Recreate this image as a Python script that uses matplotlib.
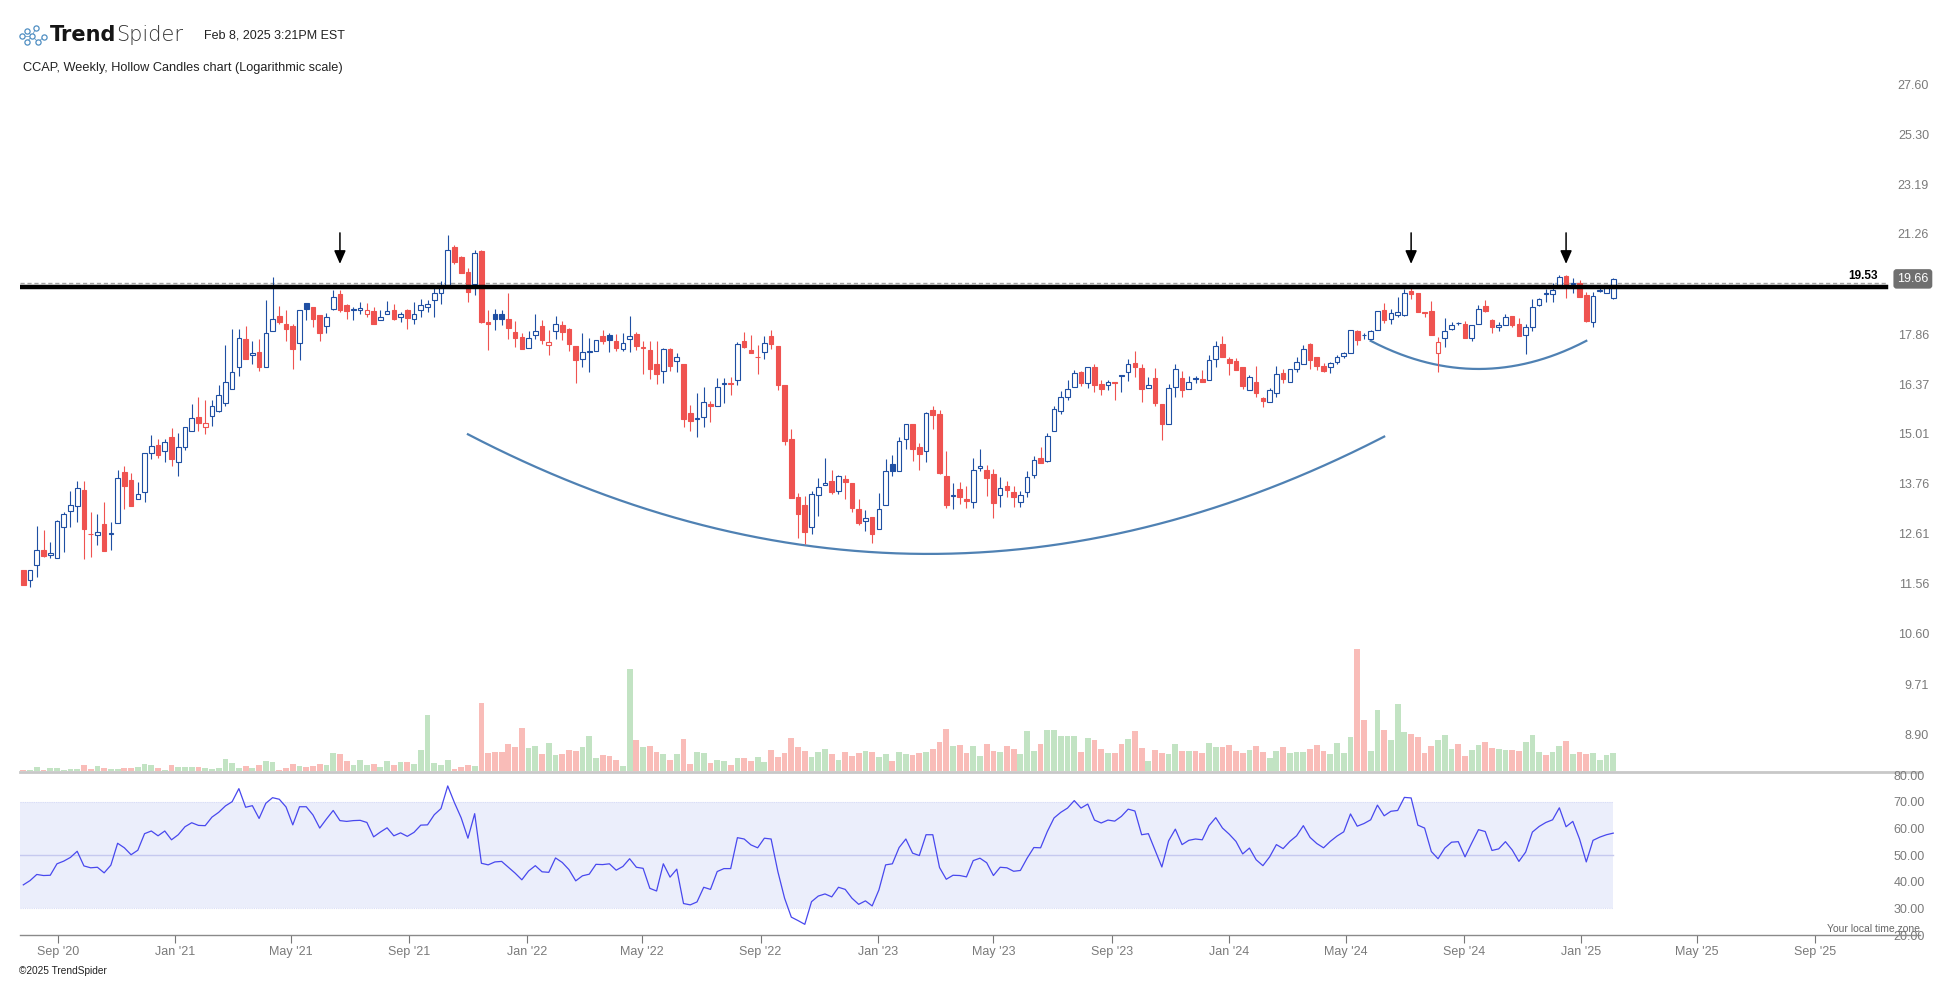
import numpy as np
import pandas as pd
import matplotlib
matplotlib.use("Agg")
import matplotlib.pyplot as plt
import matplotlib.dates as mdates
from matplotlib.ticker import FixedLocator, NullLocator

# weekly CCAP candles
dates = pd.date_range("2020-07-27", periods=237, freq="7D")

opens = [
    11.84, 11.64, 11.94, 12.27, 12.15, 12.09, 12.76, 13.13, 13.24, 13.61,
    12.62, 12.58, 12.83, 12.61, 12.86, 14.04, 13.85, 13.40, 13.57, 14.51,
    14.72, 14.56, 14.92, 14.29, 14.66, 15.08, 15.46, 15.18, 15.49, 15.61,
    15.84, 16.22, 16.86, 17.71, 17.21, 17.30, 16.86, 17.95, 18.42, 18.19,
    18.11, 17.58, 18.84, 18.71, 18.45, 18.10, 18.67, 19.15, 18.78, 18.62,
    18.61, 18.51, 18.58, 18.29, 18.51, 18.61, 18.39, 18.62, 18.32, 18.61,
    18.71, 18.94, 19.17, 19.39, 20.78, 20.43, 19.90, 19.47, 20.65, 18.24,
    18.48, 18.48, 18.33, 17.93, 17.76, 17.42, 17.84, 18.11, 17.53, 17.96,
    18.14, 18.02, 17.48, 17.10, 17.30, 17.34, 17.80, 17.84, 17.64, 17.39,
    17.71, 17.87, 17.44, 17.36, 16.94, 16.75, 17.40, 17.04, 16.95, 15.57,
    15.41, 15.46, 15.81, 15.75, 16.38, 16.41, 16.49, 17.65, 17.36, 17.15,
    17.31, 17.81, 17.49, 16.34, 14.88, 13.45, 13.26, 12.77, 13.49, 13.73,
    13.83, 13.59, 13.87, 13.78, 13.17, 12.89, 12.99, 12.72, 13.26, 14.24,
    14.07, 14.87, 15.27, 14.67, 14.57, 15.65, 15.54, 13.95, 13.47, 13.63,
    13.40, 13.33, 14.14, 14.10, 14.00, 13.49, 13.71, 13.56, 13.33, 13.56,
    13.97, 14.39, 14.33, 15.08, 15.61, 16.00, 16.28, 16.72, 16.39, 16.87,
    16.37, 16.33, 16.42, 16.62, 16.71, 16.99, 16.84, 16.25, 16.55, 15.81,
    15.27, 16.30, 16.55, 16.22, 16.54, 16.51, 16.48, 17.09, 17.55, 17.09,
    17.04, 16.85, 16.21, 16.42, 15.99, 15.88, 16.11, 16.69, 16.42, 16.80,
    16.94, 17.55, 17.15, 16.90, 16.86, 17.00, 17.18, 17.27, 17.96, 17.84,
    17.72, 17.98, 18.62, 18.32, 18.45, 18.46, 19.25, 19.18, 18.55, 18.59,
    17.28, 17.73, 18.03, 18.21, 18.17, 17.75, 18.17, 18.75, 18.31, 18.08,
    18.14, 18.42, 18.17, 17.82, 18.07, 18.78, 19.17, 19.16, 19.42, 19.76,
    19.47, 19.51, 19.10, 18.23, 19.26, 19.18, 19.02]

highs = [
    11.85, 11.85, 12.79, 12.70, 12.44, 12.93, 13.10, 13.59, 13.83, 13.83,
    13.10, 13.06, 13.33, 12.88, 14.10, 14.20, 14.02, 13.80, 14.51, 14.98,
    14.88, 14.88, 15.16, 15.03, 15.18, 15.81, 16.00, 15.92, 15.92, 16.34,
    17.52, 18.02, 18.02, 18.11, 17.64, 17.71, 18.95, 19.73, 18.75, 18.63,
    18.17, 18.62, 18.84, 18.71, 18.45, 18.53, 19.28, 19.28, 18.82, 18.71,
    18.88, 18.85, 18.71, 18.61, 18.92, 18.82, 18.55, 18.64, 18.88, 18.98,
    18.95, 19.39, 19.59, 21.23, 20.86, 20.46, 20.04, 20.68, 20.68, 18.62,
    18.67, 18.62, 19.18, 18.27, 17.88, 17.96, 18.50, 18.30, 17.99, 18.42,
    18.27, 18.06, 17.48, 17.89, 17.74, 17.68, 17.99, 17.90, 17.86, 17.88,
    18.42, 17.93, 17.63, 17.66, 17.64, 17.44, 17.43, 17.29, 16.95, 15.79,
    16.11, 16.29, 15.89, 16.54, 16.54, 16.58, 17.62, 17.93, 17.83, 17.52,
    17.79, 17.99, 17.49, 16.34, 15.14, 13.54, 13.47, 13.59, 13.89, 14.39,
    14.10, 13.97, 13.97, 13.78, 13.40, 13.15, 12.99, 13.55, 14.37, 14.47,
    14.94, 15.28, 15.27, 14.78, 15.60, 15.76, 15.65, 14.57, 13.78, 13.80,
    13.71, 14.39, 14.62, 14.23, 14.12, 13.92, 13.83, 13.70, 13.59, 14.06,
    14.44, 14.67, 15.04, 15.76, 16.18, 16.49, 16.77, 16.75, 16.86, 16.96,
    16.49, 16.49, 16.44, 16.62, 17.09, 17.34, 16.96, 16.57, 16.84, 15.81,
    16.37, 16.96, 16.75, 16.61, 16.61, 16.78, 17.22, 17.63, 17.81, 17.17,
    17.13, 16.87, 16.62, 16.90, 16.01, 16.26, 16.90, 16.82, 16.82, 17.16,
    17.52, 17.58, 17.15, 16.98, 17.02, 17.21, 17.32, 17.98, 17.98, 17.88,
    17.99, 18.59, 18.86, 18.64, 19.04, 19.31, 19.42, 19.18, 18.56, 18.92,
    17.77, 18.36, 18.25, 18.25, 18.27, 18.13, 18.79, 18.94, 18.33, 18.24,
    18.48, 18.42, 18.36, 18.17, 18.98, 19.02, 19.33, 19.51, 19.78, 19.80,
    19.68, 19.61, 19.23, 19.23, 19.46, 19.46, 19.70]

lows = [
    11.53, 11.49, 11.71, 12.12, 12.10, 12.09, 12.22, 12.77, 12.88, 12.08,
    12.12, 12.37, 12.25, 12.26, 12.86, 13.18, 13.25, 13.40, 13.34, 14.37,
    14.40, 14.30, 14.20, 13.96, 14.60, 15.08, 15.09, 15.02, 15.23, 15.60,
    15.75, 16.22, 16.59, 17.11, 16.95, 16.76, 16.86, 17.95, 18.19, 17.63,
    16.82, 17.08, 18.30, 18.09, 17.66, 17.90, 18.63, 18.55, 18.33, 18.31,
    18.50, 18.40, 18.19, 18.29, 18.51, 18.30, 18.23, 18.03, 18.19, 18.40,
    18.57, 18.40, 18.83, 19.39, 20.16, 19.87, 18.89, 19.12, 18.22, 17.38,
    18.00, 18.14, 17.72, 17.46, 17.39, 17.42, 17.70, 17.56, 17.23, 17.72,
    17.67, 17.35, 16.41, 16.85, 16.72, 17.34, 17.54, 17.32, 17.35, 17.34,
    17.32, 17.36, 16.67, 16.53, 16.38, 16.39, 16.74, 16.73, 15.20, 15.09,
    14.93, 15.20, 15.33, 15.75, 15.85, 16.07, 16.33, 17.42, 17.27, 16.66,
    17.09, 17.41, 16.21, 14.72, 13.42, 12.53, 12.40, 12.62, 13.01, 13.73,
    13.52, 13.52, 13.41, 13.11, 12.80, 12.68, 12.42, 12.72, 13.26, 13.94,
    14.07, 14.63, 14.32, 14.10, 14.29, 15.14, 13.99, 13.19, 13.18, 13.29,
    13.20, 13.19, 14.06, 13.47, 12.97, 13.21, 13.45, 13.22, 13.22, 13.45,
    13.89, 14.27, 14.29, 15.08, 15.55, 15.93, 16.28, 16.31, 16.27, 16.16,
    16.05, 16.20, 15.93, 16.15, 16.47, 16.56, 15.87, 16.25, 15.76, 14.86,
    15.27, 16.02, 16.02, 16.22, 16.39, 16.44, 16.48, 16.85, 17.17, 16.63,
    16.79, 16.24, 16.19, 16.01, 15.74, 15.88, 16.02, 16.41, 16.42, 16.71,
    16.94, 16.82, 16.78, 16.71, 16.70, 16.95, 17.13, 17.27, 17.53, 17.71,
    17.72, 17.98, 18.20, 18.16, 18.40, 18.43, 18.99, 18.55, 18.39, 17.84,
    16.71, 17.47, 17.98, 18.13, 17.75, 17.66, 18.17, 18.55, 17.90, 17.95,
    18.14, 18.07, 17.81, 17.24, 17.96, 18.75, 18.88, 18.89, 19.40, 19.01,
    19.17, 19.06, 18.25, 18.09, 19.23, 19.18, 18.99]

closes = [
    11.54, 11.85, 12.26, 12.14, 12.19, 12.89, 13.05, 13.26, 13.67, 12.72,
    12.60, 12.65, 12.25, 12.64, 13.91, 13.70, 13.25, 13.51, 14.51, 14.71,
    14.48, 14.79, 14.37, 14.68, 15.18, 15.43, 15.31, 15.29, 15.77, 16.05,
    16.44, 16.73, 17.73, 17.11, 17.27, 16.86, 17.90, 18.32, 18.25, 18.03,
    17.41, 18.62, 18.64, 18.34, 17.88, 18.39, 19.04, 18.62, 18.60, 18.64,
    18.69, 18.62, 18.19, 18.40, 18.58, 18.33, 18.48, 18.38, 18.51, 18.78,
    18.82, 19.17, 19.41, 20.67, 20.23, 19.87, 19.23, 20.57, 18.25, 18.17,
    18.32, 18.34, 18.06, 17.75, 17.39, 17.73, 17.95, 17.67, 17.62, 18.17,
    17.91, 17.56, 17.08, 17.30, 17.33, 17.68, 17.63, 17.67, 17.44, 17.58,
    17.80, 17.50, 17.46, 16.81, 16.67, 17.40, 16.88, 17.15, 15.41, 15.34,
    15.43, 15.86, 15.76, 16.30, 16.40, 16.38, 17.55, 17.46, 17.27, 17.16,
    17.58, 17.54, 16.33, 14.83, 13.42, 13.05, 12.66, 13.51, 13.69, 13.79,
    13.57, 13.95, 13.81, 13.20, 12.85, 12.96, 12.62, 13.17, 14.07, 14.08,
    14.82, 15.28, 14.63, 14.50, 15.56, 15.52, 14.02, 13.27, 13.49, 13.45,
    13.36, 14.09, 14.20, 13.91, 13.32, 13.65, 13.61, 13.45, 13.49, 13.92,
    14.34, 14.27, 14.95, 15.67, 16.00, 16.22, 16.69, 16.39, 16.86, 16.35,
    16.24, 16.42, 16.41, 16.60, 16.94, 16.87, 16.24, 16.33, 15.85, 15.26,
    16.25, 16.80, 16.21, 16.43, 16.52, 16.44, 17.06, 17.48, 17.17, 16.99,
    16.79, 16.32, 16.58, 16.11, 15.90, 16.19, 16.65, 16.53, 16.80, 17.00,
    17.39, 17.06, 16.88, 16.76, 16.98, 17.16, 17.27, 17.98, 17.67, 17.82,
    17.94, 18.59, 18.31, 18.52, 18.55, 19.17, 19.15, 18.55, 18.52, 17.84,
    17.60, 17.95, 18.14, 18.20, 17.75, 18.13, 18.64, 18.60, 18.07, 18.14,
    18.40, 18.15, 17.81, 18.07, 18.73, 19.00, 19.15, 19.28, 19.73, 19.40,
    19.51, 19.06, 18.27, 19.09, 19.28, 19.43, 19.66]

# volume in thousands of shares
volume = [
    30, 20, 110, 20, 80, 80, 20, 50, 50, 170,
    50, 140, 80, 50, 50, 80, 80, 110, 200, 170,
    80, 20, 170, 110, 110, 110, 110, 80, 50, 80,
    350, 230, 80, 140, 80, 170, 290, 260, 20, 80,
    200, 140, 110, 140, 200, 170, 530, 500, 290, 170,
    320, 170, 200, 110, 290, 170, 260, 260, 200, 620,
    1670, 230, 170, 320, 50, 110, 170, 140, 2030, 530,
    560, 560, 800, 710, 1280, 680, 740, 500, 830, 470,
    500, 620, 590, 710, 1040, 380, 470, 440, 320, 140,
    3050, 920, 710, 740, 560, 500, 320, 500, 950, 200,
    560, 530, 230, 320, 290, 170, 380, 380, 290, 410,
    260, 620, 410, 530, 980, 710, 590, 410, 560, 650,
    500, 320, 560, 440, 530, 590, 560, 410, 500, 290,
    560, 500, 470, 530, 560, 650, 860, 1250, 740, 770,
    530, 740, 440, 800, 590, 560, 740, 650, 500, 1190,
    590, 800, 1220, 1220, 1040, 1040, 1040, 560, 980, 920,
    650, 530, 530, 800, 950, 1190, 680, 290, 620, 530,
    500, 800, 590, 590, 590, 530, 830, 710, 710, 770,
    590, 530, 620, 740, 560, 380, 590, 710, 530, 560,
    560, 650, 770, 590, 500, 830, 530, 1010, 3650, 1520,
    590, 1820, 1220, 920, 2000, 1160, 1100, 1010, 530, 740,
    920, 1070, 650, 800, 440, 620, 770, 860, 680, 650,
    620, 620, 590, 860, 1070, 560, 470, 560, 740, 890,
    500, 560, 500, 530, 320, 470, 530]

rsi = [
    38.8, 40.4, 42.7, 42.3, 42.4, 46.7, 47.7, 49.1, 51.4, 45.9,
    45.2, 45.4, 43.3, 46.2, 54.4, 52.7, 50.1, 51.8, 58.0, 59.0,
    57.2, 59.0, 55.7, 57.6, 60.6, 62.1, 61.1, 61.0, 64.2, 66.0,
    68.4, 70.0, 74.9, 67.9, 68.5, 63.7, 69.4, 71.5, 70.9, 68.0,
    61.3, 68.1, 68.1, 65.0, 60.1, 63.5, 66.7, 62.9, 62.6, 62.9,
    63.0, 62.2, 56.8, 58.6, 60.2, 57.2, 58.3, 57.0, 58.5, 61.2,
    61.3, 65.1, 67.4, 75.9, 69.6, 63.9, 56.3, 65.5, 46.9, 46.3,
    47.4, 47.6, 45.4, 43.2, 40.7, 44.0, 46.0, 43.7, 43.5, 48.9,
    47.2, 44.5, 40.3, 42.2, 42.8, 46.5, 46.4, 46.7, 44.3, 45.7,
    48.6, 45.4, 45.0, 37.5, 36.5, 46.7, 41.7, 44.7, 31.8, 31.3,
    32.4, 37.9, 37.1, 43.8, 44.9, 44.9, 56.5, 56.0, 53.8, 52.7,
    56.3, 56.0, 43.8, 33.8, 26.7, 25.4, 24.0, 32.5, 34.6, 35.4,
    34.3, 37.9, 37.1, 33.8, 31.5, 32.8, 30.9, 36.9, 46.3, 46.7,
    52.8, 56.0, 50.7, 49.8, 57.6, 57.6, 45.3, 40.9, 42.4, 42.3,
    41.8, 47.9, 48.8, 47.1, 42.3, 45.4, 45.2, 43.9, 44.2, 48.8,
    52.8, 52.7, 58.8, 63.9, 66.0, 67.6, 70.4, 67.6, 69.1, 63.1,
    62.0, 63.1, 62.7, 64.5, 67.2, 66.5, 57.6, 58.0, 51.7, 45.5,
    55.3, 59.7, 53.9, 55.5, 56.0, 55.7, 61.0, 64.0, 60.1, 57.8,
    55.1, 50.4, 52.6, 48.2, 46.0, 49.3, 53.9, 52.4, 55.1, 57.2,
    61.0, 56.6, 54.3, 52.7, 55.1, 57.1, 58.7, 65.4, 60.8, 61.8,
    63.2, 68.7, 64.7, 66.4, 66.7, 71.6, 71.4, 61.2, 60.1, 51.3,
    48.6, 52.6, 54.8, 55.0, 49.3, 54.5, 59.5, 58.8, 51.7, 52.3,
    55.0, 51.9, 47.6, 51.1, 58.6, 60.7, 62.2, 63.2, 67.7, 60.6,
    62.6, 56.0, 47.4, 55.5, 56.7, 57.6, 58.2]

price_ticks = [8.90, 9.71, 10.60, 11.56, 12.61, 13.76, 15.01, 16.37, 17.86,
               21.26, 23.19, 25.30, 27.60]
rsi_ticks = [20, 30, 40, 50, 60, 70, 80]
level_line = 19.53       # dashed level with label
drawn_line = 19.40       # thick black horizontal drawn under it
arrow_idx = [47, 206, 229]
big_arc_idx, big_arc_px = [66, 135, 202], [15.00, 12.18, 14.94]
small_arc_idx, small_arc_px = [200, 217, 232], [17.65, 16.81, 17.65]

BLUE = "#1f4fa3"
RED = "#ef5350"
GREEN_V = "#c2e3c3"
PINK_V = "#f9bcb8"
GRAY_TXT = "#7a7a7a"

W, H = 1950, 983
fig = plt.figure(figsize=(W / 100, H / 100), dpi=100)
plt.rcParams["font.family"] = ["Liberation Sans", "DejaVu Sans"]


def box(x0, y0, x1, y1):
    # pixel rectangle (top-left origin) -> figure fraction
    return [x0 / W, 1 - y1 / H, (x1 - x0) / W, (y1 - y0) / H]


xs = mdates.date2num(dates)
day_per_px = 7 / 6.737
x_lo = xs[0] - 3.3 * day_per_px
x_hi = xs[0] + (1920 - 23.3) * day_per_px

o = np.array(opens); h = np.array(highs); l = np.array(lows); c = np.array(closes)
prev = np.r_[o[0], c[:-1]]
col = np.where(c >= prev, BLUE, RED)
hollow = c > o

# volume panel (behind the price)
axv = fig.add_axes(box(20, 600, 1920, 771))
axv.bar(xs, volume, width=6.0, color=np.where(c >= o, GREEN_V, PINK_V), linewidth=0)
axv.set_xlim(x_lo, x_hi)
axv.set_ylim(0, 5130)
axv.axis("off")

# price panel
ax = fig.add_axes(box(20, 60, 1920, 772))
ax.patch.set_visible(False)
ax.set_yscale("log")
ax.set_xlim(x_lo, x_hi)
ax.set_ylim(8.332, 28.78)

ax.vlines(xs, l, h, colors=col, linewidth=0.8, zorder=3)
body_lo = np.minimum(o, c)
body_h = np.maximum(np.abs(c - o), 0.015)
ax.bar(xs, body_h, bottom=body_lo, width=4.8, color=np.where(hollow, "white", col),
       edgecolor=col, linewidth=0.8, zorder=4)

# level lines
ax.axhline(level_line, xmin=0, xmax=0.982, color="#a5a5a5", lw=1.0, ls=(0, (3, 2)), zorder=2)
ax.axhline(drawn_line, xmin=0, xmax=0.982, color="black", lw=3.2, zorder=5)
ax.text(0.978, level_line * 1.002, "19.53", transform=ax.get_yaxis_transform(),
        ha="right", va="bottom", fontsize=8.5, fontweight="bold", color="black")
ax.text(1.0045, closes[-1], "19.66", transform=ax.get_yaxis_transform(),
        ha="right", va="center", fontsize=9, color="white", zorder=6,
        bbox=dict(boxstyle="round,pad=0.3,rounding_size=0.25", fc="#6f6f6f", ec="none"))

# arrows over the three tops
for i in arrow_idx:
    ax.annotate("", xy=(xs[i], 20.18), xytext=(xs[i], 21.30),
                arrowprops=dict(arrowstyle="-|>,head_length=0.8,head_width=0.35",
                                color="black", lw=1.1, shrinkA=0, shrinkB=0))

# cup and handle arcs
for idx, px in [(big_arc_idx, big_arc_px), (small_arc_idx, small_arc_px)]:
    ax_x = xs[idx] - xs[0]
    k = np.polyfit(ax_x, np.log(px), 2)
    xx = np.linspace(ax_x[0], ax_x[-1], 200)
    ax.plot(xx + xs[0], np.exp(np.polyval(k, xx)), color="#4f81b3", lw=1.6, zorder=2)

ax.yaxis.set_major_locator(FixedLocator(price_ticks))
ax.yaxis.set_minor_locator(NullLocator())
ax.set_yticklabels([f"{v:.2f}" for v in price_ticks])
ax.tick_params(axis="y", which="both", left=False, right=False, labelleft=False,
               labelright=True, pad=3, labelsize=9, labelcolor=GRAY_TXT)
plt.setp(ax.get_yticklabels(), ha="right")
ax.tick_params(axis="x", bottom=False, labelbottom=False)
for s in ["top", "left", "right"]:
    ax.spines[s].set_visible(False)
ax.spines["bottom"].set_color("#c8c8c8")
ax.spines["bottom"].set_linewidth(2.0)

# RSI panel
axr = fig.add_axes(box(20, 775, 1920, 935))
axr.set_xlim(x_lo, x_hi)
axr.set_ylim(20, 80)
axr.fill_between([x_lo, xs[-1]], 30, 70, color="#ebeefb", lw=0)
axr.plot([x_lo, xs[-1]], [70, 70], color="#d8dcf6", lw=0.8, ls=(0, (1, 1)))
axr.plot([x_lo, xs[-1]], [30, 30], color="#d8dcf6", lw=0.8, ls=(0, (1, 1)))
axr.plot([x_lo, xs[-1]], [50, 50], color="#c6c9ef", lw=1.0)
axr.plot(xs, rsi, color="#4848ee", lw=0.9)

axr.yaxis.set_major_locator(FixedLocator(rsi_ticks))
axr.set_yticklabels([f"{v:.2f}" for v in rsi_ticks])
axr.tick_params(axis="y", left=False, right=False, labelleft=False, labelright=True,
                pad=0, labelsize=9, labelcolor=GRAY_TXT)
plt.setp(axr.get_yticklabels(), ha="right")

tick_dates = pd.date_range("2020-09-01", "2025-09-01", freq="4MS")
axr.set_xticks(mdates.date2num(tick_dates))
axr.set_xticklabels([d.strftime("%b '%y") for d in tick_dates])
axr.tick_params(axis="x", direction="out", length=6, width=0.8, color="#777777",
                labelsize=9, labelcolor=GRAY_TXT, pad=2)
for s in ["top", "left", "right"]:
    axr.spines[s].set_visible(False)
axr.spines["bottom"].set_color("#8a8a8a")
axr.spines["bottom"].set_linewidth(1.0)

# header
logo = fig.add_axes(box(18, 22, 48, 48))
logo.set_xlim(0, 30); logo.set_ylim(26, 0); logo.axis("off")
nodes = [(4, 14), (9, 9), (9, 20), (14, 14), (18, 6), (20, 20), (26, 15)]
for a, b in [(0, 3), (1, 3), (2, 3), (3, 4), (3, 5), (5, 6)]:
    logo.plot([nodes[a][0], nodes[b][0]], [nodes[a][1], nodes[b][1]], color="#6a9cc6", lw=0.6)
logo.scatter([n[0] for n in nodes], [n[1] for n in nodes], s=14, facecolor="white",
             edgecolor="#4f8ec2", linewidth=0.9, zorder=3)

fig.text(50 / W, 1 - 35 / H, "Trend", fontsize=15, fontweight="bold", color="#151515",
         va="center", ha="left", family="DejaVu Sans")
fig.text(116 / W, 1 - 35 / H, "Spider", fontsize=15, fontweight="light", color="#333333",
         va="center", ha="left", family="DejaVu Sans")
fig.text(204 / W, 1 - 35 / H, "Feb 8, 2025 3:21PM EST", fontsize=9, color="#222222",
         va="center", ha="left")
fig.text(23 / W, 1 - 68 / H, "CCAP, Weekly, Hollow Candles chart (Logarithmic scale)",
         fontsize=9.2, color="#222222", va="center", ha="left")
fig.text(1920 / W, 1 - 929 / H, "Your local time zone", fontsize=7.5, color="#666666",
         va="center", ha="right")
fig.text(19 / W, 1 - 971 / H, "\u00a92025 TrendSpider", fontsize=7.3, color="#222222",
         va="center", ha="left")

fig.savefig("out.png", dpi=100, facecolor="white")
